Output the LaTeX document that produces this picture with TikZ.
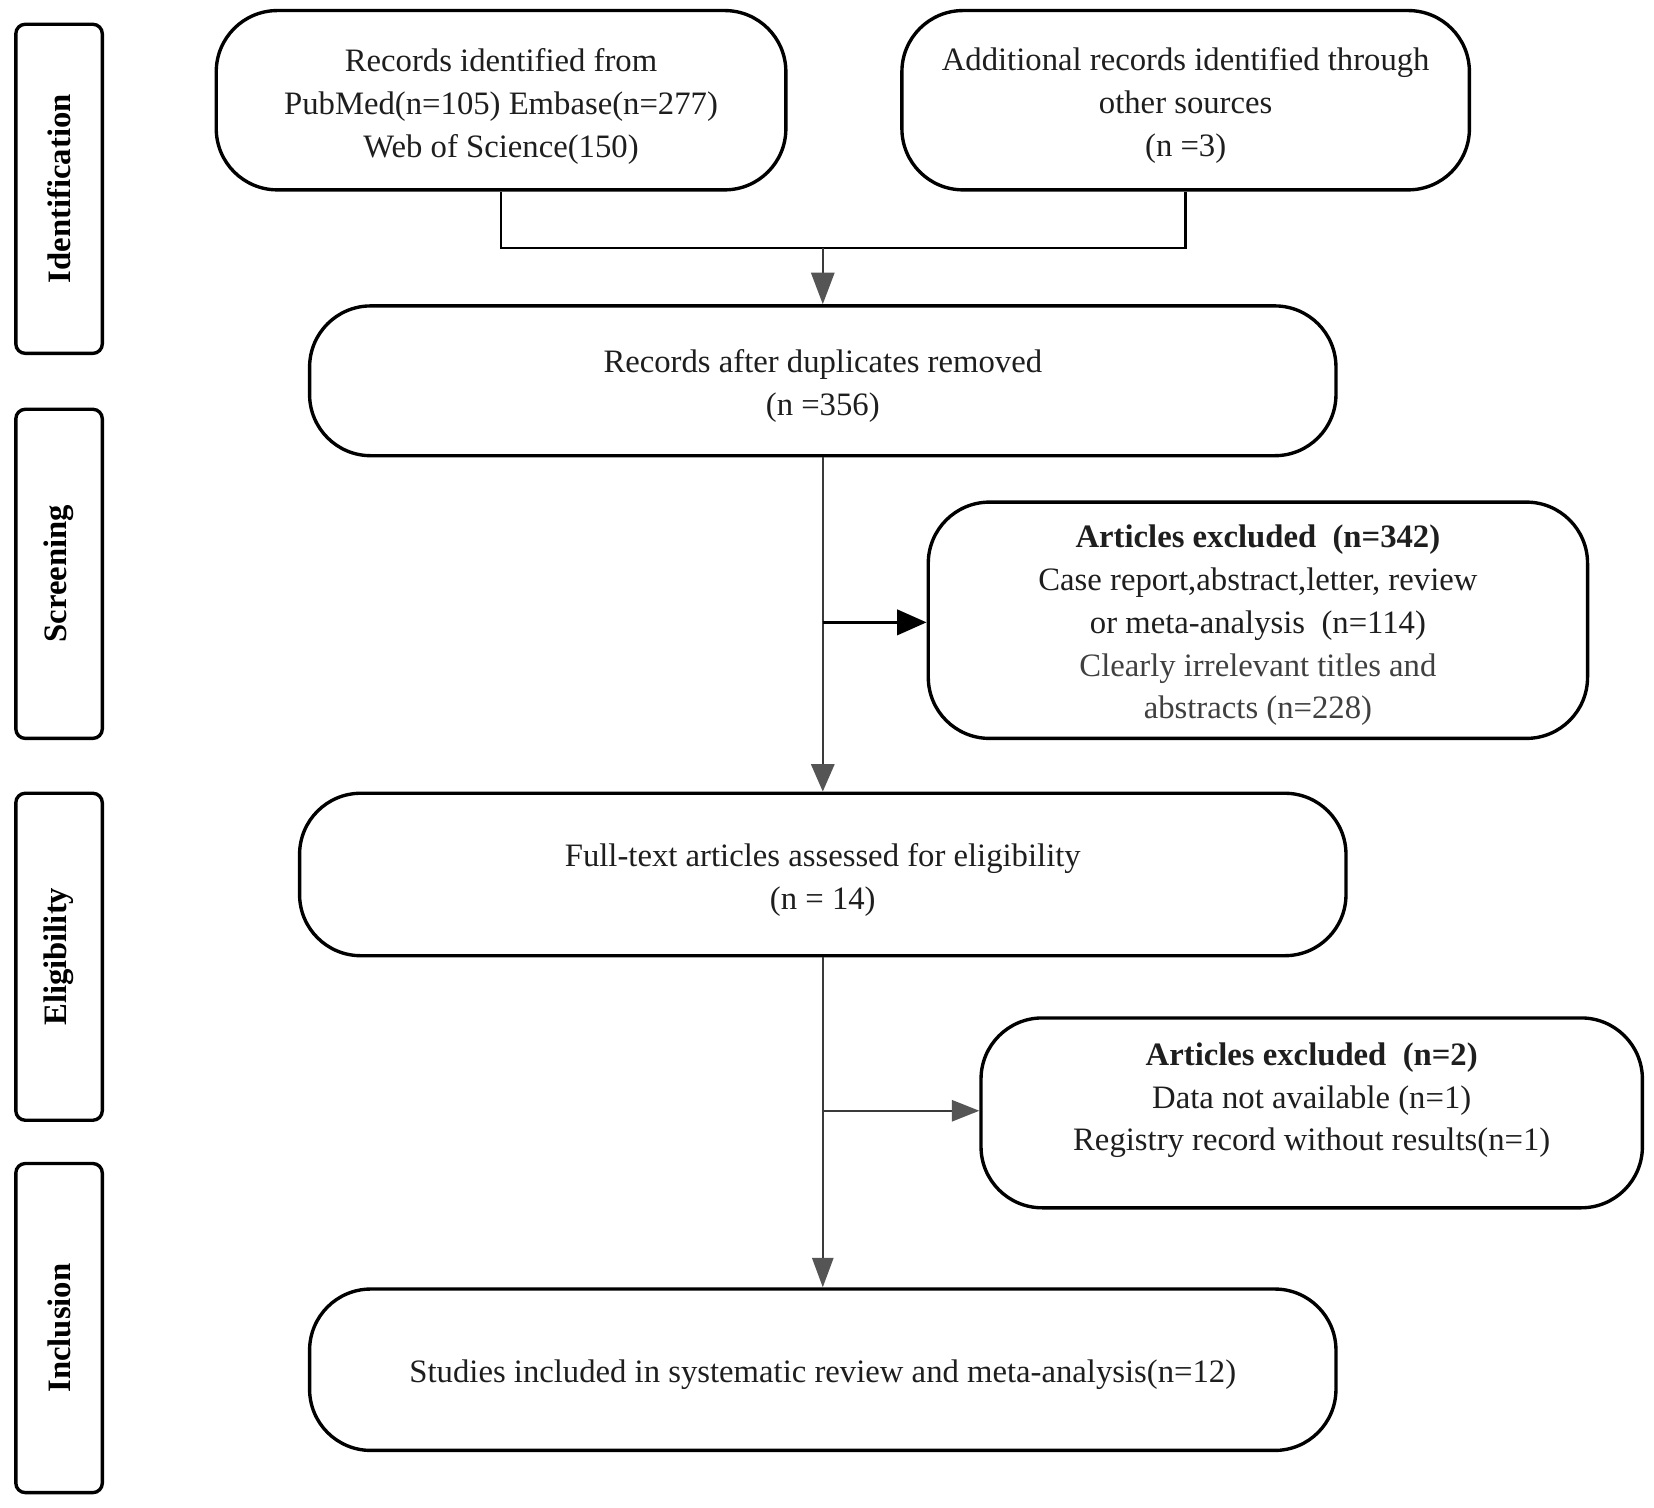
\documentclass[tikz,border=0pt]{standalone}
\usepackage{fontspec}
\setmainfont{Liberation Serif}
\usetikzlibrary{arrows.meta}
\definecolor{lin}{HTML}{3A3A3A}
\definecolor{tipg}{HTML}{555555}
\definecolor{txt}{HTML}{1E1E1E}
\begin{document}
\begin{tikzpicture}[x=1pt,y=-1pt,
  box/.style={draw=black,line width=3.2pt,rounded corners=58pt,inner sep=0pt},
  btext/.style={align=center,inner sep=0pt,text=txt,font=\fontsize{31}{40.5}\selectfont},
  side/.style={draw=black,line width=3.2pt,rounded corners=9pt,inner sep=0pt,
    minimum width=82pt,font=\bfseries\fontsize{31}{38}\selectfont},
  conn/.style={draw=lin,line width=2.4pt},
  garrow/.style={conn,-{Triangle[length=30pt,width=22pt,fill=tipg,color=tipg]}},
  barrow/.style={draw=black,line width=3pt,-{Triangle[length=28pt,width=24pt]}}
]
\useasboundingbox (0,0) rectangle (1568,1428.7);
\fill[white] (0,0) rectangle (1568,1428.7);

% side labels
\node[side,minimum height=312pt] (sid) at (56,179) {\rotatebox{90}{Identification}};
\node[side,minimum height=312pt] (ssc) at (56,544) {\rotatebox{90}{Screening}};
\node[side,minimum height=310pt] (sel) at (56,907) {\rotatebox{90}{Eligibility}};
\node[side,minimum height=312pt] (sin) at (56,1259) {\rotatebox{90}{Inclusion}};

% main boxes
\node[box,minimum width=540pt,minimum height=170pt] (b1) at (475,95) {};
\node[btext] (t1) at ([yshift=-6pt]b1.center)
  {Records identified from\\PubMed(n=105) Embase(n=277)\\Web of Science(150)};
\node[box,minimum width=538pt,minimum height=170pt] (b2) at (1124,95) {};
\node[btext] (t2) at ([yshift=-5pt]b2.center)
  {Additional records identified through\\other sources\\(n =3)};
\node[box,minimum width=973pt,minimum height=142pt] (b3) at (780,361) {};
\node[btext] (t3) at ([yshift=-5pt]b3.center)
  {Records after duplicates removed\\(n =356)};
\node[box,minimum width=625pt,minimum height=224pt] (e1) at (1192.5,588) {};
\node[btext] (te1) at ([yshift=-5pt]e1.center)
  {\textbf{Articles excluded\ \ (n=342)}\\Case report,abstract,letter, review\\or meta-analysis\ \ (n=114)\\
   \textcolor{black!75}{Clearly irrelevant titles and}\\\textcolor{black!75}{abstracts (n=228)}};
\node[box,minimum width=992pt,minimum height=154pt] (b4) at (780,829) {};
\node[btext] (t4) at ([yshift=-5pt]b4.center)
  {Full-text articles assessed for eligibility\\(n = 14)};
\node[box,minimum width=627pt,minimum height=180pt] (e2) at (1243.5,1055) {};
\node[btext] (te2) at ([yshift=12pt]e2.center)
  {\textbf{Articles excluded\ \ (n=2)}\\Data not available (n=1)\\Registry record without results(n=1)};
\node[box,minimum width=973pt,minimum height=153pt] (b5) at (780,1298.5) {};
\node[btext] (t5) at ([yshift=-5pt]b5.center)
  {Studies included in systematic review and meta-analysis(n=12)};

% connectors
\coordinate (m) at (780,235);
\draw[conn,draw=black] (b1.south) |- (m) -| (b2.south);
\draw[garrow] (m) -- (b3.north);

\coordinate (j1) at (780,590);
\draw[conn,-{Triangle[length=26pt,width=22pt,fill=tipg,color=tipg]}] (b3.south) -- (b4.north);
\draw[barrow] (j1) -- (j1 -| e1.west);

\coordinate (j2) at (780,1053);
\draw[conn,-{Triangle[length=28pt,width=20pt,fill=tipg,color=tipg]}] (b4.south) -- (b5.north);
\draw[conn,-{Triangle[length=26pt,width=20pt,fill=tipg,color=tipg]}] (j2) -- (j2 -| e2.west);
\end{tikzpicture}
\end{document}
